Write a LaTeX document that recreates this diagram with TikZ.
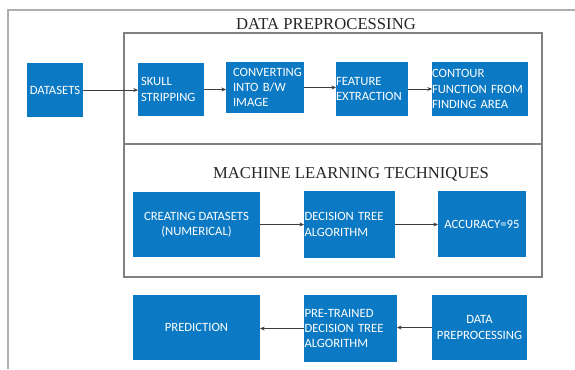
\documentclass[tikz,border=0pt]{standalone}
\usepackage{fontspec}
\setmainfont{Liberation Serif}
\newfontfamily\boxfont{Carlito}
\usetikzlibrary{arrows.meta}
\definecolor{blkblue}{RGB}{12,121,196}
\definecolor{frmgray}{RGB}{128,128,128}
\definecolor{pagegray}{RGB}{175,175,175}
\definecolor{lnkgray}{RGB}{60,60,60}

\begin{document}
\begin{tikzpicture}[x=0.75pt,y=0.75pt,yscale=-1,xscale=1,
  blk/.style={fill=blkblue, text=white, font=\boxfont\fontsize{9.5}{11.5}\selectfont, inner sep=0pt, outer sep=0pt},
  flow/.style={draw=lnkgray, line width=0.7, -{Stealth[length=3.5pt,width=3pt]}},
  ttl/.style={font=\fontsize{12.5}{14}\selectfont, text=black!85, inner sep=0pt}]
\useasboundingbox (0,0) rectangle (575,369);

%Page edge
\draw [pagegray, line width=1.1]  (575,10) -- (8,10) -- (8,369) ;
%Shape: Rectangle
\draw [frmgray, line width=0.9]  (124,33) rectangle (542,277) ;
%Straight Lines
\draw [frmgray, line width=0.9]  (124,144) -- (542,144) ;

% Text Node
\node [ttl, anchor=base] (ttlpre) at (326,29) {DATA PREPROCESSING};
% Text Node
\node [ttl, anchor=base] (ttlml) at (351,178) {MACHINE LEARNING TECHNIQUES};

% Blocks
\node [blk, minimum width=42pt, minimum height=40.5pt, align=center] (ds) at (55,90) {DATASETS};
\node [blk, minimum width=49.5pt, minimum height=39.75pt, text width=45pt, align=left] (skull) at (171,89.5) {SKULL\\STRIPPING};
\node [blk, minimum width=58.5pt, minimum height=38.25pt, text width=48pt, align=left] (conv) at (265,87.5) {CONVERTING\\INTO B/W\\IMAGE};
\node [blk, minimum width=54pt, minimum height=40.5pt, text width=54pt, align=left] (feat) at (372,89) {FEATURE\\EXTRACTION};
\node [blk, minimum width=72pt, minimum height=40.5pt, text width=72pt, align=left] (cont) at (480,89) {CONTOUR\\FUNCTION FROM\\FINDING AREA};

\node [blk, minimum width=95.25pt, minimum height=48.75pt, align=center] (cdata) at (196.5,224.5) {CREATING DATASETS\\(NUMERICAL)};
\node [blk, minimum width=68.25pt, minimum height=50.25pt, text width=67.5pt, align=left] (dtree) at (349.5,224.5) {DECISION TREE\\ALGORITHM};
\node [blk, minimum width=66pt, minimum height=49.5pt, align=center] (acc) at (482,224) {ACCURACY=95};

\node [blk, minimum width=95.25pt, minimum height=48.75pt, align=center] (pred) at (196.5,327.5) {PREDICTION};
\node [blk, minimum width=69.75pt, minimum height=50.25pt, text width=69pt, align=left] (ptrain) at (350.5,328.5) {PRE-TRAINED\\DECISION TREE\\ALGORITHM};
\node [blk, minimum width=71.25pt, minimum height=48.75pt, align=center] (dprep) at (479.5,327.5) {DATA\\PREPROCESSING};

%Straight Lines
\draw [flow]  (ds.east) -- (ds.east -| skull.west) ;
\draw [flow]  (skull.east) -- (skull.east -| conv.west) ;
\draw [flow]  (conv.east) -- (conv.east -| feat.west) ;
\draw [flow]  (feat.east) -- (feat.east -| cont.west) ;
\draw [flow]  (cdata.east) -- (cdata.east -| dtree.west) ;
\draw [flow]  (dtree.east) -- (dtree.east -| acc.west) ;
\draw [flow]  (dprep.west) -- (dprep.west -| ptrain.east) ;
\draw [flow]  (ptrain.west) -- (ptrain.west -| pred.east) ;

\end{tikzpicture}
\end{document}
